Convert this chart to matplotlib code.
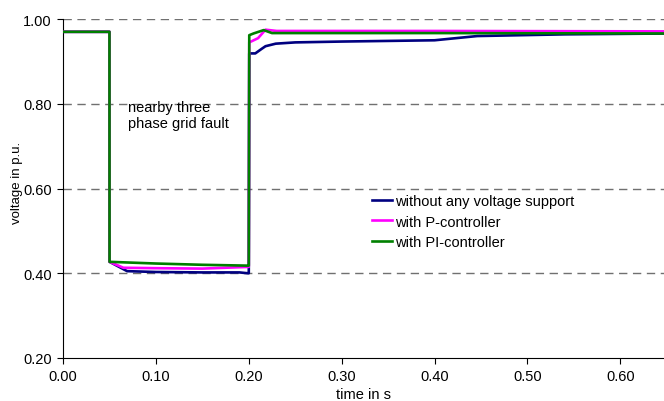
import matplotlib

matplotlib.use("Agg")
import matplotlib.pyplot as plt  # noqa: E402

plt.rcParams["font.family"] = ["Liberation Sans", "DejaVu Sans"]

# voltage at the grid connection point during a nearby three phase fault
t_none = [0.0, 0.05, 0.0501, 0.069, 0.10, 0.15, 0.19, 0.199, 0.2, 0.2005, 0.207,
          0.214, 0.218, 0.229, 0.25, 0.30, 0.40, 0.446, 0.54, 0.65]
v_none = [0.97, 0.97, 0.427, 0.405, 0.403, 0.402, 0.402, 0.400, 0.400, 0.919, 0.919,
          0.930, 0.936, 0.942, 0.945, 0.947, 0.950, 0.960, 0.964, 0.966]

t_p = [0.0, 0.05, 0.0501, 0.065, 0.10, 0.15, 0.199, 0.2, 0.2005, 0.21, 0.218,
       0.23, 0.40, 0.65]
v_p = [0.97, 0.97, 0.427, 0.413, 0.412, 0.411, 0.415, 0.415, 0.945, 0.955, 0.975,
       0.972, 0.972, 0.971]

t_pi = [0.0, 0.05, 0.0501, 0.10, 0.15, 0.199, 0.2, 0.2005, 0.205, 0.216, 0.225,
        0.40, 0.65]
v_pi = [0.97, 0.97, 0.427, 0.423, 0.420, 0.418, 0.418, 0.962, 0.966, 0.974, 0.967,
        0.967, 0.966]

x_ticks = [0.0, 0.1, 0.2, 0.3, 0.4, 0.5, 0.6]
y_ticks = [0.2, 0.4, 0.6, 0.8, 1.0]

fig = plt.figure(figsize=(6.64, 4.02), dpi=100)
ax = fig.add_axes([0.0949, 0.107, 0.9051, 0.843])

for y in y_ticks[1:]:
    ax.axhline(y, color="#707070", linestyle=(0, (6, 4)), linewidth=1.0, zorder=1)

ax.plot(t_none, v_none, color="#000080", linewidth=1.9, label="without any voltage support", zorder=3)
ax.plot(t_p, v_p, color="#FF00FF", linewidth=1.9, label="with P-controller", zorder=4)
ax.plot(t_pi, v_pi, color="#008000", linewidth=1.9, label="with PI-controller", zorder=5)

ax.text(0.0695, 0.774, "nearby three\nphase grid fault", fontsize=10.5,
        va="center", ha="left", linespacing=1.15)

ax.set_xlim(0, 0.647)
ax.set_ylim(0.2, 1.0)
ax.set_xticks(x_ticks)
ax.set_xticklabels([f"{x:.2f}" for x in x_ticks])
ax.set_yticks(y_ticks)
ax.set_yticklabels([f"{y:.2f}" for y in y_ticks])
ax.tick_params(direction="out", length=4, width=0.8, labelsize=10.5, pad=4)
ax.spines["top"].set_visible(False)
ax.spines["right"].set_visible(False)
ax.set_xlabel("time in s", fontsize=10.5, labelpad=2.5)
ax.set_ylabel("voltage in p.u.", fontsize=9.5)
ax.yaxis.set_label_coords(-0.066, 0.52)

ax.legend(loc="upper left", bbox_to_anchor=(372 / 664, 1 - 195 / 402),
          bbox_transform=fig.transFigure, frameon=False, fontsize=10.5,
          handlelength=1.4, handletextpad=0.15, labelspacing=0.45,
          borderpad=0, borderaxespad=0)

fig.savefig("out.png", dpi=100)
plt.close(fig)
